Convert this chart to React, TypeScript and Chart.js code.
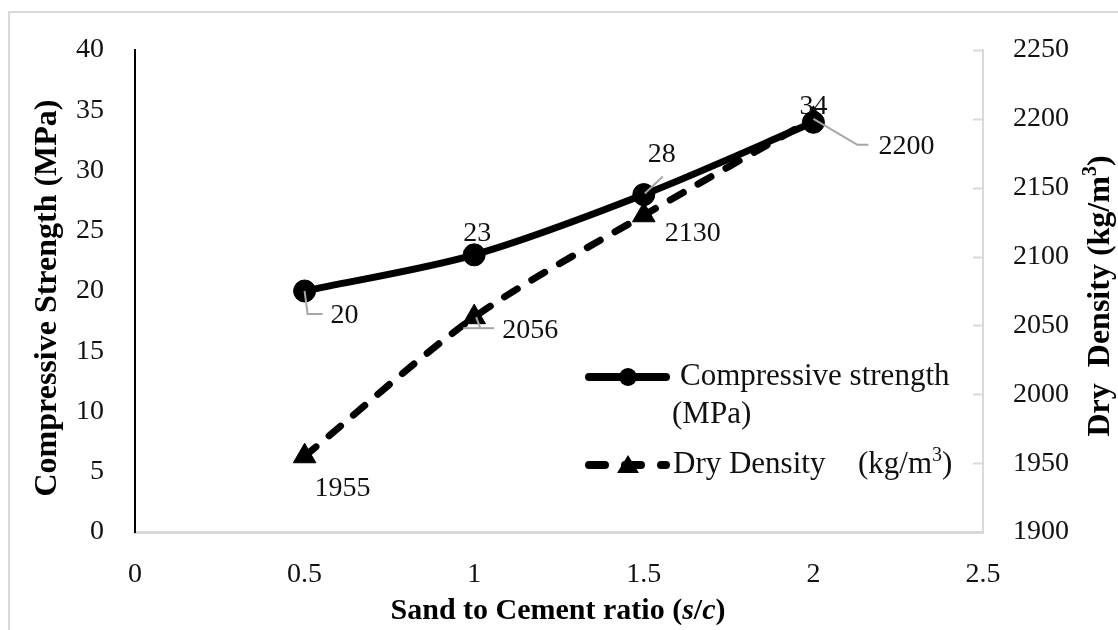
import React, { useEffect, useRef } from 'react';
import { Chart, registerables } from 'chart.js';

Chart.register(...registerables);

// ---- data ----
const ratios = [0.5, 1, 1.5, 2];
const strength = [20, 23, 28, 34];
const density = [1955, 2056, 2130, 2200];
const xAxisRange = [0, 2.5, 0.5];
const leftAxisRange = [0, 40, 5];
const rightAxisRange = [1900, 2250, 50];

const strengthLabel = 'Compressive strength';
const strengthLabel2 = '(MPa)';
const densityLabel = 'Dry Density';
const leftTitle = 'Compressive Strength (MPa)';
const xTitle = ['Sand to Cement ratio (', 's', '/', 'c', ')'];
const rightTitle = ['Dry  Density (kg/m', '3', ')'];

const FONT = "'Liberation Serif', 'Times New Roman', serif";
const W = 1118;
const H = 630;

type Part = { t: string; font: string; dy?: number };

function drawParts(ctx: CanvasRenderingContext2D, parts: Part[], x: number, y: number, align: 'left' | 'center') {
  let total = 0;
  for (const p of parts) {
    ctx.font = p.font;
    total += ctx.measureText(p.t).width;
  }
  let cx = align === 'center' ? x - total / 2 : x;
  ctx.textAlign = 'left';
  ctx.textBaseline = 'middle';
  for (const p of parts) {
    ctx.font = p.font;
    ctx.fillText(p.t, cx, y + (p.dy || 0));
    cx += ctx.measureText(p.t).width;
  }
}

function polyline(ctx: CanvasRenderingContext2D, pts: number[][]) {
  ctx.beginPath();
  pts.forEach((p, i) => (i === 0 ? ctx.moveTo(p[0], p[1]) : ctx.lineTo(p[0], p[1])));
  ctx.stroke();
}

// label placement relative to the point pixel (style, not data)
const strengthLabelStyle = [
  { dx: 26, dy: 25, align: 'left', leader: [[[0, 0], [3, 23], [18, 23]]] },
  { dx: 3, dy: -21, align: 'center', leader: [] },
  { dx: 18, dy: -40, align: 'center', leader: [[[1, -1], [19, -18]]] },
  { dx: 0, dy: -16, align: 'center', leader: [] },
];
const densityLabelStyle = [
  { dx: 38, dy: 32, align: 'center', leader: [] },
  { dx: 28, dy: 13, align: 'left', leader: [[[-11, 11], [20, 11]], [[2, 0], [6, 11]]] },
  { dx: 21, dy: 18, align: 'left', leader: [] },
  { dx: 65, dy: 28, align: 'left', leader: [[[0, 0], [44, 26], [55, 26]]] },
];

const overlay = {
  id: 'overlay',
  beforeDraw(chart: any) {
    const ctx: CanvasRenderingContext2D = chart.ctx;
    ctx.save();
    ctx.fillStyle = '#ffffff';
    ctx.fillRect(0, 0, chart.width, chart.height);
    ctx.strokeStyle = '#d9d9d9';
    ctx.lineWidth = 2;
    ctx.strokeRect(9, 12, chart.width + 20, chart.height + 20);
    ctx.restore();
  },
  afterDraw(chart: any) {
    const ctx: CanvasRenderingContext2D = chart.ctx;
    const area = chart.chartArea;
    const xs = chart.scales.x;
    const ys = chart.scales.y;
    const y1 = chart.scales.y1;
    ctx.save();

    // right axis inward tick marks
    ctx.strokeStyle = '#d9d9d9';
    ctx.lineWidth = 2;
    y1.ticks.forEach((t: any) => {
      const py = Math.round(y1.getPixelForValue(t.value)) + 0.5;
      polyline(ctx, [[area.right - 10, py], [area.right, py]]);
    });

    // data labels + leader lines
    const labelFont = `28px ${FONT}`;
    const drawSeries = (vals: number[], scale: any, styles: any[]) => {
      vals.forEach((v, i) => {
        const px = xs.getPixelForValue(ratios[i]);
        const py = scale.getPixelForValue(v);
        const st = styles[i];
        ctx.strokeStyle = '#a6a6a6';
        ctx.lineWidth = 2;
        st.leader.forEach((seg: number[][]) => polyline(ctx, seg.map((p) => [px + p[0], py + p[1]])));
        ctx.fillStyle = '#111';
        ctx.font = labelFont;
        ctx.textAlign = st.align;
        ctx.textBaseline = 'middle';
        ctx.fillText(String(v), px + st.dx, py + st.dy);
      });
    };
    drawSeries(strength, ys, strengthLabelStyle);
    drawSeries(density, y1, densityLabelStyle);

    // legend
    const legFont = `31px ${FONT}`;
    const ly1 = 377;
    const ly2 = 465;
    ctx.strokeStyle = '#000';
    ctx.fillStyle = '#000';
    ctx.lineCap = 'round';
    ctx.lineWidth = 8;
    polyline(ctx, [[589, ly1], [666, ly1]]);
    ctx.beginPath();
    ctx.arc(628, ly1, 9, 0, Math.PI * 2);
    ctx.fill();
    ctx.setLineDash([16, 20]);
    polyline(ctx, [[589, ly2], [666, ly2]]);
    ctx.setLineDash([]);
    ctx.beginPath();
    ctx.moveTo(628, ly2 - 10);
    ctx.lineTo(639, ly2 + 8);
    ctx.lineTo(617, ly2 + 8);
    ctx.closePath();
    ctx.fill();
    ctx.fillStyle = '#111';
    drawParts(ctx, [{ t: strengthLabel, font: legFont }], 680, ly1, 'left');
    drawParts(ctx, [{ t: strengthLabel2, font: legFont }], 672, 415, 'left');
    drawParts(ctx, [{ t: densityLabel, font: legFont }], 673, ly2, 'left');
    drawParts(
      ctx,
      [
        { t: '(kg/m', font: legFont },
        { t: '3', font: `20px ${FONT}`, dy: -9 },
        { t: ')', font: legFont },
      ],
      858,
      ly2,
      'left'
    );

    // axis titles
    const tFont = `bold 30px ${FONT}`;
    const tItal = `italic bold 30px ${FONT}`;
    const vFont = `bold 32px ${FONT}`;
    ctx.fillStyle = '#000';
    drawParts(
      ctx,
      [
        { t: xTitle[0], font: tFont },
        { t: xTitle[1], font: tItal },
        { t: xTitle[2], font: tFont },
        { t: xTitle[3], font: tItal },
        { t: xTitle[4], font: tFont },
      ],
      558,
      611,
      'center'
    );
    ctx.save();
    ctx.translate(48, 298);
    ctx.rotate(-Math.PI / 2);
    drawParts(ctx, [{ t: leftTitle, font: vFont }], 0, 0, 'center');
    ctx.restore();
    ctx.save();
    ctx.translate(1101, 296);
    ctx.rotate(-Math.PI / 2);
    drawParts(
      ctx,
      [
        { t: rightTitle[0], font: vFont },
        { t: rightTitle[1], font: `bold 20px ${FONT}`, dy: -10 },
        { t: rightTitle[2], font: vFont },
      ],
      0,
      0,
      'center'
    );
    ctx.restore();

    ctx.restore();
  },
};

const plain = (v: any) => String(v);

export default function App() {
  const ref = useRef<HTMLCanvasElement | null>(null);

  useEffect(() => {
    if (!ref.current) return;
    const tickFont = { family: FONT, size: 28 };
    const chart = new Chart(ref.current, {
      type: 'line',
      data: {
        datasets: [
          {
            label: strengthLabel,
            data: ratios.map((x, i) => ({ x, y: strength[i] })),
            yAxisID: 'y',
            borderColor: '#000',
            backgroundColor: '#000',
            borderWidth: 7,
            tension: 0.3,
            pointStyle: 'circle',
            pointRadius: 11,
            pointBackgroundColor: '#000',
            pointBorderColor: '#000',
            pointBorderWidth: 1,
            fill: false,
          },
          {
            label: densityLabel,
            data: ratios.map((x, i) => ({ x, y: density[i] })),
            yAxisID: 'y1',
            borderColor: '#000',
            backgroundColor: '#000',
            borderWidth: 7,
            borderDash: [15, 17],
            borderCapStyle: 'round',
            tension: 0.3,
            pointStyle: 'triangle',
            pointRadius: 13,
            pointBackgroundColor: '#000',
            pointBorderColor: '#000',
            pointBorderWidth: 1,
            fill: false,
          },
        ],
      },
      options: {
        responsive: false,
        animation: false,
        devicePixelRatio: 1,
        layout: { padding: { top: 50, left: 0, right: 0, bottom: 0 } },
        plugins: { legend: { display: false }, tooltip: { enabled: false }, title: { display: false } },
        scales: {
          x: {
            type: 'linear',
            min: xAxisRange[0],
            max: xAxisRange[1],
            ticks: { stepSize: xAxisRange[2], font: tickFont, color: '#111', padding: 26, callback: plain },
            grid: { display: false, drawTicks: false },
            border: { color: '#d9d9d9', width: 3 },
            afterFit: (s: any) => {
              s.height = 98;
            },
          },
          y: {
            type: 'linear',
            position: 'left',
            min: leftAxisRange[0],
            max: leftAxisRange[1],
            ticks: { stepSize: leftAxisRange[2], font: tickFont, color: '#111', padding: 31, autoSkip: false, callback: plain },
            grid: { display: false, drawTicks: false },
            border: { color: '#000', width: 2 },
            afterFit: (s: any) => {
              s.width = 135;
            },
          },
          y1: {
            type: 'linear',
            position: 'right',
            min: rightAxisRange[0],
            max: rightAxisRange[1],
            ticks: { stepSize: rightAxisRange[2], font: tickFont, color: '#111', padding: 30, autoSkip: false, callback: plain },
            grid: { display: false, drawTicks: false },
            border: { color: '#d9d9d9', width: 2 },
            afterFit: (s: any) => {
              s.width = W - 983;
            },
          },
        },
      },
      plugins: [overlay],
    } as any);
    return () => chart.destroy();
  }, []);

  return (
    <div style={{ position: 'fixed', left: 0, top: 0, width: W, height: H, background: '#fff' }}>
      <canvas ref={ref} width={W} height={H} style={{ width: W, height: H, display: 'block' }} />
    </div>
  );
}
